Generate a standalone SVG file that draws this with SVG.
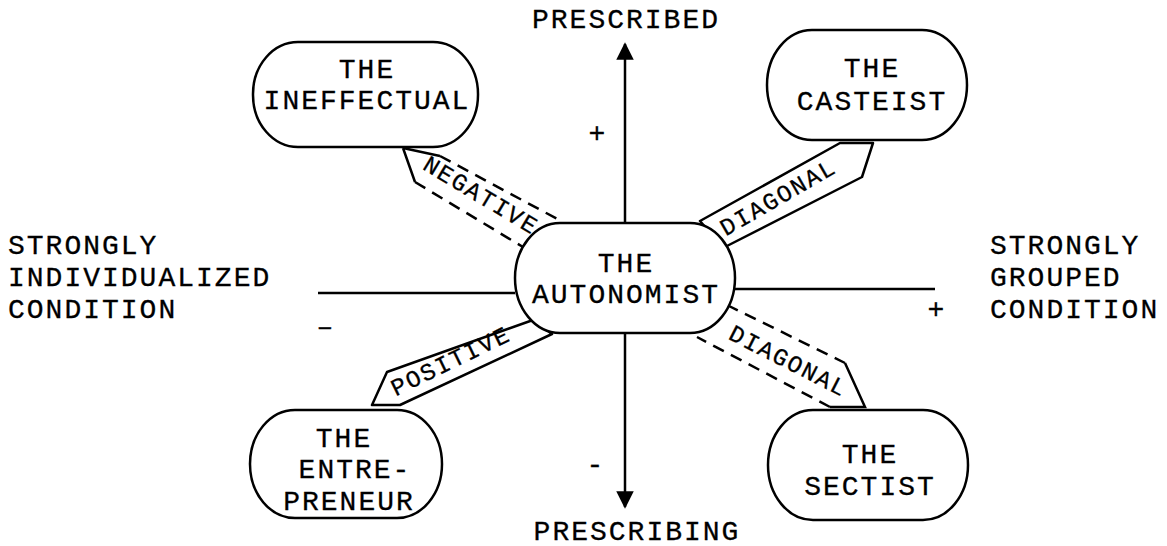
<svg xmlns="http://www.w3.org/2000/svg" width="1167" height="546" viewBox="0 0 1167 546">
<style>
.t{font-family:"Liberation Mono","DejaVu Sans Mono",monospace;font-size:28px;letter-spacing:2px;fill:#000;stroke:#000;stroke-width:0.3}
.m{text-anchor:middle}
.b{font-family:"Liberation Mono","DejaVu Sans Mono",monospace;font-size:24px;letter-spacing:1.8px;fill:#000;stroke:#000;stroke-width:0.3;text-anchor:middle}
.node{fill:#fff;stroke:#000;stroke-width:2.5}
.ax{stroke:#000;stroke-width:2.5;fill:none}
.band{fill:#fff;stroke:#000;stroke-width:2.5;stroke-linejoin:round}
.dash{fill:none;stroke:#000;stroke-width:2.5;stroke-dasharray:12 8}
.solid{fill:none;stroke:#000;stroke-width:2.5}
</style>
<defs>
<marker id="ah" viewBox="0 0 10 10" refX="9" refY="5" markerWidth="7" markerHeight="7" markerUnits="strokeWidth" orient="auto">
<path d="M0,0 L10,5 L0,10 Z" fill="#000"/>
</marker>
</defs>
<rect width="1167" height="546" fill="#fff"/>
<g id="connectors">
<line class="ax" x1="625" y1="222" x2="625" y2="44" marker-end="url(#ah)"/>
<line class="ax" x1="625" y1="333" x2="625" y2="507" marker-end="url(#ah)"/>
<line class="ax" x1="318" y1="293" x2="515" y2="293"/>
<line class="ax" x1="735" y1="289" x2="935" y2="289"/>
<g id="band-negative">
<polygon points="403,148 563,222 523,247 415,182" fill="#fff" stroke="none"/>
<path class="solid" d="M403,148 L415,182 M403,148 L440,156"/>
<path class="dash" d="M440,156 L563,222 M415,182 L523,247"/>
<text class="b" transform="translate(477,202) rotate(31)">NEGATIVE</text>
</g>
<g id="band-diagonal-top">
<polygon class="band" points="700,221 840,143 873,143 862,177 723,248"/>
<text class="b" transform="translate(782,204) rotate(-30)">DIAGONAL</text>
</g>
<g id="band-positive">
<polygon class="band" points="533,320 387,372 372,405 400,405 552,334"/>
<text class="b" transform="translate(454,368) rotate(-26)">POSITIVE</text>
</g>
<g id="band-diagonal-bottom">
<polygon points="727,305 845,363 865,407 830,407 697,337" fill="#fff" stroke="none"/>
<path class="solid" d="M845,363 L865,407 L830,407"/>
<path class="dash" d="M727,305 L845,363 M830,407 L697,337"/>
<text class="b" transform="translate(785,368) rotate(27)">DIAGONAL</text>
</g>
</g>
<g id="node-autonomist">
<rect class="node" x="515" y="223" width="220" height="110" rx="45" ry="55"/>
<text class="t m" x="626" y="272">THE</text>
<text class="t m" x="626" y="303">AUTONOMIST</text>
</g>
<g id="node-ineffectual">
<rect class="node" x="253" y="42" width="225" height="105" rx="45" ry="52"/>
<text class="t m" x="367" y="78">THE</text>
<text class="t m" x="367" y="109">INEFFECTUAL</text>
</g>
<g id="node-casteist">
<rect class="node" x="767" y="30" width="200" height="110" rx="45" ry="55"/>
<text class="t m" x="872" y="77">THE</text>
<text class="t m" x="872" y="110">CASTEIST</text>
</g>
<g id="node-entrepreneur">
<rect class="node" x="250" y="410" width="192" height="108" rx="45" ry="54"/>
<text class="t m" x="344" y="447">THE</text>
<text class="t m" x="355" y="478">ENTRE-</text>
<text class="t m" x="349" y="510">PRENEUR</text>
</g>
<g id="node-sectist">
<rect class="node" x="768" y="410" width="200" height="110" rx="45" ry="55"/>
<text class="t m" x="870" y="463">THE</text>
<text class="t m" x="870" y="495">SECTIST</text>
</g>
<g id="labels">
<text class="t m" x="626" y="28">PRESCRIBED</text>
<text class="t m" x="637" y="540">PRESCRIBING</text>
<text class="t" x="8" y="254">STRONGLY</text>
<text class="t" x="8" y="286">INDIVIDUALIZED</text>
<text class="t" x="8" y="318">CONDITION</text>
<text class="t" x="990" y="254">STRONGLY</text>
<text class="t" x="990" y="286">GROUPED</text>
<text class="t" x="990" y="318">CONDITION</text>
<text class="t m" x="598" y="142">+</text>
<text class="t m" x="937" y="318">+</text>
<text class="t m" x="326" y="335">–</text>
<text class="t m" x="596" y="473">-</text>
</g>
</svg>
